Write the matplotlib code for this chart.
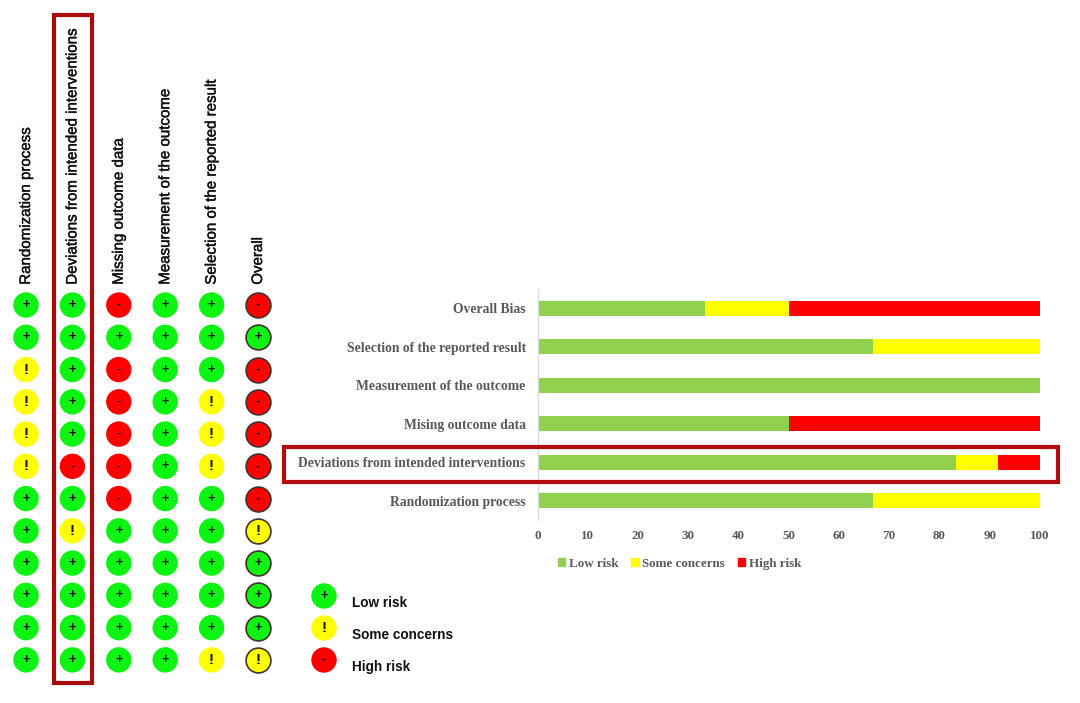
import matplotlib
matplotlib.use("Agg")
import matplotlib.pyplot as plt
import matplotlib.patheffects as pe
from matplotlib.patches import Rectangle, Patch
from matplotlib.transforms import ScaledTranslation

W, H = 1080, 703

# traffic light table
domains = ["Randomization process", "Deviations from intended interventions",
           "Missing outcome data", "Measurement of the outcome",
           "Selection of the reported result", "Overall"]
randomization = list("++!!!!++++++")
deviations = list("+++++-+!++++")
missing = list("-+-----+++++")
measurement = list("++++++++++++")
selection = list("+++!!!+++++!")
overall = list("-+-----!+++!")
judgements = [randomization, deviations, missing, measurement, selection, overall]

# summary bars
bar_labels = ["Randomization process", "Deviations from intended interventions",
              "Mising outcome data", "Measurement of the outcome",
              "Selection of the reported result", "Overall Bias"]
low_risk = [66.7, 83.3, 50, 100, 66.7, 33.3]
some_concerns = [33.3, 8.3, 0, 0, 33.3, 16.7]
high_risk = [0, 8.4, 50, 0, 0, 50]
bar_ticks = [0, 10, 20, 30, 40, 50, 60, 70, 80, 90, 100]

legend_names = ["Low risk", "Some concerns", "High risk"]
legend_symbols = ["+", "!", "-"]

light_colors = {"+": "#0cf512", "!": "#ffff00", "-": "#ff0000"}
bar_colors = ["#92d050", "#ffff00", "#ff0000"]
SANS = "Liberation Sans"
SERIF = "Liberation Serif"
GREY = "#595959"


def px_axes(fig, left, top, right, bottom):
    # axes placed from pixel edges, y counted from the top of the image
    return fig.add_axes([left / W, 1 - bottom / H, (right - left) / W, (bottom - top) / H])


def draw_light(ax, x, y, symbol, size=335, edge="none", lw=0):
    ax.scatter([x], [y], s=size, color=light_colors[symbol], edgecolors=edge,
               linewidths=lw, zorder=2, clip_on=False)
    fs = 11 if symbol == "!" else 9
    ax.text(x, y, symbol, ha="center", va="center", fontsize=fs, fontweight="bold",
            family=SANS, color="#111111", zorder=3)


fig = plt.figure(figsize=(W / 100, H / 100), dpi=100, facecolor="white")

# left table
ax = px_axes(fig, 2.8, 288.9, 281.2, 676)
ax.set_xlim(-0.5, 5.5)
ax.set_ylim(11.5, -0.5)
for i, col in enumerate(judgements):
    for j, symbol in enumerate(col):
        if i == 5:
            draw_light(ax, i, j, symbol, size=320, edge="#46302c", lw=1.2)
        else:
            draw_light(ax, i, j, symbol)
ax.xaxis.tick_top()
ax.set_xticks(range(len(domains)))
ax.set_xticklabels(domains, rotation=90, fontsize=10.85, family=SANS, color="#111111")
nudge = ScaledTranslation(3.5 / 100, 0, fig.dpi_scale_trans)
for lab in ax.get_xticklabels():
    lab.set_transform(lab.get_transform() + nudge)
    lab.set_path_effects([pe.withStroke(linewidth=0.3, foreground="#111111")])
ax.tick_params(axis="x", length=0, pad=3)
ax.set_yticks([])
for s in ax.spines.values():
    s.set_visible(False)

# legend of the table
lax = px_axes(fig, 300, 580, 480, 676)
lax.set_xlim(0, 180)
lax.set_ylim(2.5, -0.5)
for k, name in enumerate(legend_names):
    draw_light(lax, 24, k, legend_symbols[k])
    lax.annotate(name, (24, k), xytext=(20, -5), textcoords="offset points", ha="left",
                 va="center", fontsize=9.8, fontweight="bold", family=SANS, color="#111111")
lax.axis("off")

# summary bars
bx = px_axes(fig, 537.5, 289, 1040, 520)
ypos = range(len(bar_labels))
left2 = [a + b for a, b in zip(low_risk, some_concerns)]
bx.barh(ypos, low_risk, height=0.4, color=bar_colors[0])
bx.barh(ypos, some_concerns, height=0.4, left=low_risk, color=bar_colors[1])
bx.barh(ypos, high_risk, height=0.4, left=left2, color=bar_colors[2])
bx.set_xlim(0, 100)
bx.set_ylim(-0.5, 5.5)
bx.set_xticks(bar_ticks)
bx.set_yticks(list(ypos))
bx.set_yticklabels(bar_labels)
for lab in bx.get_yticklabels():
    lab.set(family=SERIF, fontweight="bold", fontsize=9.8, color=GREY)
for lab in bx.get_xticklabels():
    lab.set(family=SERIF, fontweight="bold", fontsize=9.4, color=GREY)
bx.tick_params(axis="y", length=0, pad=8.5)
bx.tick_params(axis="x", length=0, pad=7)
for s in ["top", "right", "bottom"]:
    bx.spines[s].set_visible(False)
bx.spines["left"].set_color("#d9d9d9")
handles = [Patch(color=c, label=n) for c, n in zip(bar_colors, legend_names)]
leg = bx.legend(handles=handles, ncol=3, frameon=False, loc="center", bbox_to_anchor=(0.283, -0.19),
                handlelength=0.55, handleheight=0.55, handletextpad=0.3, columnspacing=0.95,
                prop={"family": SERIF, "weight": "bold", "size": 9.4})
for t in leg.get_texts():
    t.set_color(GREY)

# highlight boxes
fig.add_artist(Rectangle((53.5 / W, 1 - 683 / H), 38 / W, 668 / H, transform=fig.transFigure,
                         fill=False, edgecolor="#a80c0c", linewidth=3))
fig.add_artist(Rectangle((283.5 / W, 1 - 482 / H), 774 / W, 35 / H, transform=fig.transFigure,
                         fill=False, edgecolor="#b30a0a", linewidth=3))

fig.savefig("out.png", dpi=100)
